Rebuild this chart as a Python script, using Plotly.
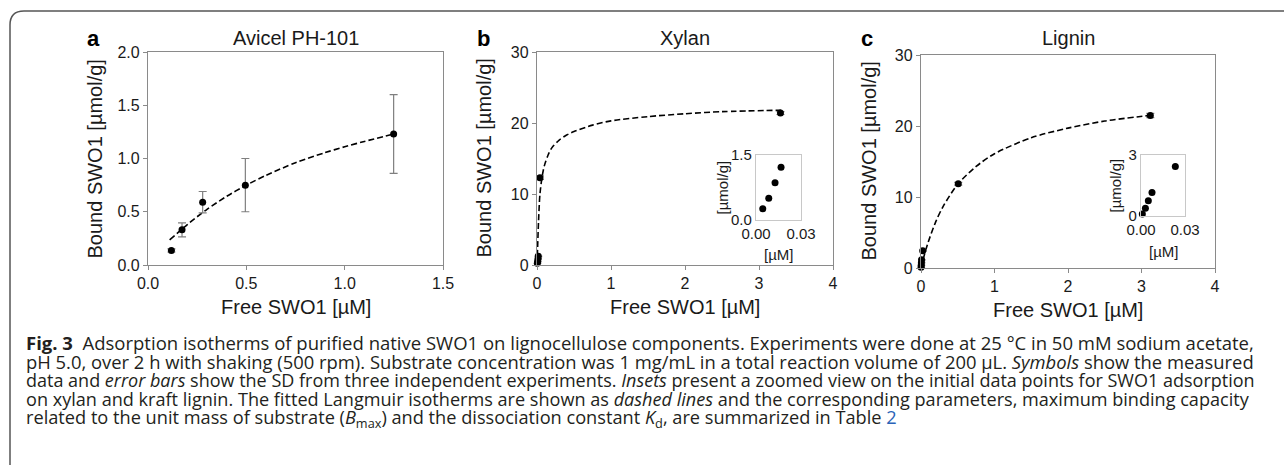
import plotly.graph_objects as go

# ---------------- data ----------------
a_x = [0.119, 0.173, 0.278, 0.495, 1.249]
a_y = [0.137, 0.33, 0.59, 0.75, 1.23]
a_err = [0.015, 0.065, 0.10, 0.25, 0.37]
a_fit_x = [0.11, 0.2, 0.3, 0.4, 0.5, 0.6, 0.75, 0.9, 1.0, 1.1, 1.25]
a_fit_y = [0.235, 0.38, 0.523, 0.645, 0.75, 0.842, 0.96, 1.055, 1.11, 1.16, 1.23]

b_x = [0.0045, 0.0085, 0.0127, 0.0167, 0.04, 3.29]
b_y = [0.26, 0.50, 0.86, 1.22, 12.3, 21.4]
b_err = [0.02, 0.02, 0.03, 0.03, 0.25, 0.2]
b_fit_x = [0, 0.01, 0.02, 0.04, 0.07, 0.1, 0.15, 0.2, 0.3, 0.4, 0.5, 0.75, 1.0, 1.5, 2.0, 2.5, 3.3]
b_fit_y = [0, 3.0, 6.0, 10.0, 12.5, 14.0, 15.5, 16.5, 17.6, 18.3, 18.8, 19.7, 20.3, 20.9, 21.3, 21.6, 21.8]

c_x = [0.0009, 0.003, 0.005, 0.0075, 0.0234, 0.507, 3.12]
c_y = [0.10, 0.38, 0.75, 1.15, 2.43, 11.86, 21.47]
c_err = [0.03, 0.03, 0.03, 0.05, 0.1, 0.2, 0.3]
c_fit_x = [0, 0.05, 0.1, 0.2, 0.3, 0.5, 0.75, 1.0, 1.5, 2.0, 2.5, 3.12]
c_fit_y = [0, 2.0, 3.7, 6.5, 8.65, 11.8, 14.3, 16.1, 18.35, 19.7, 20.7, 21.5]

panel_letters = ["a", "b", "c"]
panel_titles = ["Avicel PH-101", "Xylan", "Lignin"]
x_title = "Free SWO1 [µM]"
y_title = "Bound SWO1 [µmol/g]"
inset_x_title = "[µM]"
inset_y_title = "[µmol/g]"

caption_lines = [
    "<b>Fig. 3</b> &nbsp;Adsorption isotherms of purified native SWO1 on lignocellulose components. Experiments were done at 25 °C in 50 mM sodium acetate,",
    "pH 5.0, over 2 h with shaking (500 rpm). Substrate concentration was 1 mg/mL in a total reaction volume of 200 µL. <i>Symbols</i> show the measured",
    "data and <i>error bars</i> show the SD from three independent experiments. <i>Insets</i> present a zoomed view on the initial data points for SWO1 adsorption",
    "on xylan and kraft lignin. The fitted Langmuir isotherms are shown as <i>dashed lines</i> and the corresponding parameters, maximum binding capacity",
    "related to the unit mass of substrate (<i>B</i><sub>max</sub>) and the dissociation constant <i>K</i><sub>d</sub>, are summarized in Table <span style='color:#2a63b8'>2</span>",
]
caption_sizes = [18.5, 18.4, 18.0, 18.1, 18.2]

# ---------------- layout helpers ----------------
W, H = 1284, 465
def fx(px):
    return px / W
def fy(py):
    return 1 - py / H

FONT = "Liberation Sans, Arial, sans-serif"
AX_COL = "#8a8a8a"

fig = go.Figure()

def add_points(x, y, err, xa, ya):
    fig.add_trace(go.Scatter(
        x=x, y=y, mode="markers", xaxis=xa, yaxis=ya, cliponaxis=False,
        marker=dict(color="black", size=7),
        error_y=dict(type="data", array=err, color="#7f7f7f", thickness=1.2, width=4),
        showlegend=False))

def add_fit(x, y, xa, ya):
    fig.add_trace(go.Scatter(
        x=x, y=y, mode="lines", xaxis=xa, yaxis=ya, cliponaxis=False,
        line=dict(color="black", width=1.6, dash="6px,3px", shape="spline", smoothing=0.8),
        showlegend=False))

add_fit(a_fit_x, a_fit_y, "x", "y")
add_points(a_x, a_y, a_err, "x", "y")
add_fit(b_fit_x, b_fit_y, "x2", "y2")
add_points(b_x, b_y, b_err, "x2", "y2")
add_fit(c_fit_x, c_fit_y, "x3", "y3")
add_points(c_x, c_y, c_err, "x3", "y3")

# insets: initial data points (x within inset range)
bi = [i for i, v in enumerate(b_x) if v <= 0.03]
ci = [i for i, v in enumerate(c_x) if v <= 0.03]
fig.add_trace(go.Scatter(x=[b_x[i] for i in bi], y=[b_y[i] for i in bi], mode="markers",
                         xaxis="x4", yaxis="y4", cliponaxis=False,
                         marker=dict(color="black", size=7), showlegend=False))
fig.add_trace(go.Scatter(x=[c_x[i] for i in ci], y=[c_y[i] for i in ci], mode="markers",
                         xaxis="x5", yaxis="y5", cliponaxis=False,
                         marker=dict(color="black", size=7), showlegend=False))

main_ax = dict(showline=True, mirror=True, linecolor=AX_COL, linewidth=1.3,
               ticks="outside", ticklen=4, tickcolor=AX_COL, tickwidth=1.2,
               showgrid=False, zeroline=False, automargin=False,
               tickfont=dict(family=FONT, size=16, color="#1a1a1a"))
inset_ax = dict(showline=True, mirror=True, linecolor="#c8c8c8", linewidth=1.2,
                ticks="", showgrid=False, zeroline=False, automargin=False,
                tickfont=dict(family=FONT, size=15, color="#1a1a1a"))

panels = [
    (148, 443, 52, 265),
    (537, 833, 52, 265),
    (921, 1215, 55, 268),
]

fig.update_layout(
    width=W, height=H, margin=dict(l=0, r=0, t=0, b=0, autoexpand=False),
    paper_bgcolor="white", plot_bgcolor="white",
    xaxis=dict(domain=[fx(148), fx(443)], range=[0, 1.5], tickvals=[0, 0.5, 1.0, 1.5],
               tickformat=".1f", anchor="y", **main_ax),
    yaxis=dict(domain=[fy(265), fy(52)], range=[0, 2.0], tickvals=[0, 0.5, 1.0, 1.5, 2.0],
               tickformat=".1f", anchor="x", **main_ax),
    xaxis2=dict(domain=[fx(537), fx(833)], range=[0, 4], dtick=1, anchor="y2", **main_ax),
    yaxis2=dict(domain=[fy(265), fy(52)], range=[0, 30], dtick=10, anchor="x2", **main_ax),
    xaxis3=dict(domain=[fx(921), fx(1215)], range=[0, 4], dtick=1, anchor="y3", **main_ax),
    yaxis3=dict(domain=[fy(268), fy(55)], range=[0, 30], dtick=10, anchor="x3", **main_ax),
    xaxis4=dict(domain=[fx(756), fx(801)], range=[0, 0.03], tickvals=[0, 0.03],
                ticktext=["0.00", "0.03"], anchor="y4", **inset_ax),
    yaxis4=dict(domain=[fy(220), fy(155)], range=[0, 1.5], tickvals=[0, 1.5],
                ticktext=["0.0", "1.5"], anchor="x4", **inset_ax),
    xaxis5=dict(domain=[fx(1141), fx(1185)], range=[0, 0.03], tickvals=[0, 0.03],
                ticktext=["0.00", "0.03"], anchor="y5", **inset_ax),
    yaxis5=dict(domain=[fy(216), fy(155)], range=[0, 3], tickvals=[0, 3],
                ticktext=["0", "3"], anchor="x5", **inset_ax),
)

ann = []
def A(**kw):
    kw.setdefault("xref", "paper")
    kw.setdefault("yref", "paper")
    kw.setdefault("showarrow", False)
    ann.append(kw)

for (l, r, t, b), letter, title in zip(panels, panel_letters, panel_titles):
    cx = (l + r) / 2
    A(x=fx(l - 54), y=fy(38), text=f"<b>{letter}</b>", xanchor="center", yanchor="middle",
      font=dict(family=FONT, size=22, color="black"))
    A(x=fx(cx), y=fy(38), text=title, xanchor="center", yanchor="middle",
      font=dict(family=FONT, size=20, color="#1a1a1a"))
    A(x=fx(cx), y=fy(b + 42), text=x_title, xanchor="center", yanchor="middle",
      font=dict(family=FONT, size=20, color="#1a1a1a"))
    A(x=fx(l - 53), y=fy((t + b) / 2), text=y_title, textangle=-90,
      xanchor="center", yanchor="middle",
      font=dict(family=FONT, size=20, color="#1a1a1a"))

# inset titles
for (l, r, t, b), xcen in [((756, 801, 155, 220), 722), ((1141, 1185, 155, 216), 1115)]:
    A(x=fx((l + r) / 2), y=fy(b + 35), text=inset_x_title, xanchor="center", yanchor="middle",
      font=dict(family=FONT, size=15, color="#1a1a1a"))
    A(x=fx(xcen), y=fy((t + b) / 2), text=inset_y_title, textangle=-90,
      xanchor="center", yanchor="middle",
      font=dict(family=FONT, size=15, color="#1a1a1a"))

# caption
CAP_FONT = "Open Sans, Noto Sans, sans-serif"
for i, (line, sz) in enumerate(zip(caption_lines, caption_sizes)):
    A(x=fx(24), y=fy(342 + i * 19), text=line, xanchor="left", yanchor="middle",
      font=dict(family=CAP_FONT, size=sz, color="#231f20"))

fig.update_layout(annotations=ann)

# frame: rounded top-left bracket
x0 = fx(10)
yt = fy(11)
path = (f"M {x0},0 L {x0},{fy(25)} Q {x0},{yt} {fx(24)},{yt} L 1,{yt}")
fig.add_shape(type="path", path=path, xref="paper", yref="paper",
              line=dict(color="#555555", width=1.5))

fig.write_html("out.html")
